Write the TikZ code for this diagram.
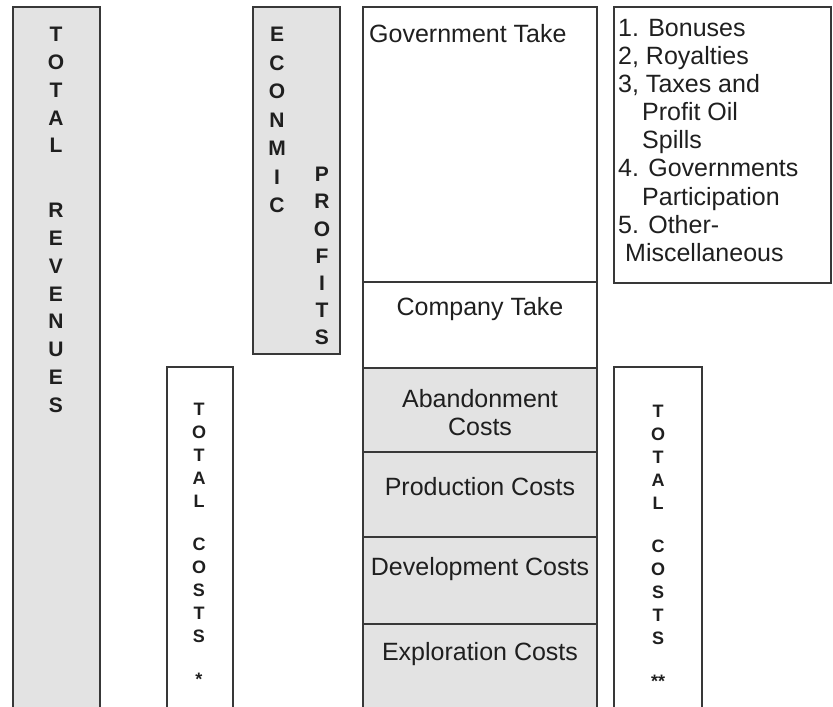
\documentclass[tikz,border=0pt]{standalone}
\usepackage{fontspec}
\setmainfont{Liberation Sans}
\usetikzlibrary{positioning}
\tikzset{box/.style={draw=black!78, line width=1.5pt, inner sep=0pt, outer sep=0pt, anchor=north west}}
\tikzset{greybox/.style={box, fill=black!11}}
\tikzset{txt/.style={inner sep=0pt, text=black!88, font=\fontsize{25}{28.1}\selectfont}}
\tikzset{bigletters/.style={inner sep=0pt, align=center, text=black!88, font=\fontsize{21}{27.8}\selectfont\bfseries}}
\tikzset{smallletters/.style={inner sep=0pt, align=center, text=black!88, font=\fontsize{18}{23}\selectfont\bfseries}}

\begin{document}
\begin{tikzpicture}[x=1pt, y=-1pt]
	\clip (0,0) rectangle (833,707);

	% left hand columns
	\node [greybox, minimum width=87, minimum height=720]	(rev) at (13,7) {};
	\node [greybox, minimum width=87, minimum height=347]	(prof) at (253,7) {};
	\node [box, minimum width=66, minimum height=360]		(cost1) at (167,367) {};

	% middle stack
	\node [box, minimum width=234, minimum height=275]			(gov) at (363,7) {};
	\node [box, minimum width=234, minimum height=86, below=0pt of gov]		(comp) {};
	\node [greybox, minimum width=234, minimum height=84, below=0pt of comp]	(aband) {};
	\node [greybox, minimum width=234, minimum height=85, below=0pt of aband]	(prod) {};
	\node [greybox, minimum width=234, minimum height=87, below=0pt of prod]	(dev) {};
	\node [greybox, minimum width=234, minimum height=100, below=0pt of dev]	(expl) {};

	% right hand boxes
	\node [box, minimum width=217, minimum height=276]	(list) at (614,7) {};
	\node [box, minimum width=88, minimum height=360]	(cost2) at (614,367) {};

	% texts
	\node [txt, anchor=base west] (govtxt) at ([xshift=6pt, yshift=-35pt]gov.north west) {Government Take};
	\node [txt, anchor=base] (comptxt) at ([yshift=-33pt]comp.north) {Company Take};
	\node [txt, align=center] (abandtxt) at ([yshift=-45pt]aband.north) {Abandonment\\Costs};
	\node [txt, anchor=base] (prodtxt) at ([yshift=-43pt]prod.north) {Production Costs};
	\node [txt, anchor=base] (devtxt) at ([yshift=-38pt]dev.north) {Development Costs};
	\node [txt, anchor=base] (expltxt) at ([yshift=-36pt]expl.north) {Exploration Costs};

	\node [txt, align=left, anchor=north west] (items) at ([xshift=4pt, yshift=-12pt]list.north west)
		{1. Bonuses\\2, Royalties\\3, Taxes and\\\hspace*{24pt}Profit Oil\\\hspace*{24pt}Spills\\
		 4. Governments\\\hspace*{24pt}Participation\\5. Other-\\\hspace*{7pt}Miscellaneous};

	% letters set one under the other
	\node [bigletters, anchor=north] (revtxt) at (56,27) {T\\O\\T\\A\\L\\[37pt]R\\E\\V\\E\\N\\U\\E\\S};
	\node [bigletters, font=\fontsize{21}{28.5}\selectfont\bfseries, anchor=north] (econtxt) at (277,27) {E\\C\\O\\N\\M\\I\\C};
	\node [bigletters, font=\fontsize{21}{27.2}\selectfont\bfseries, anchor=north] (proftxt) at (322,167) {P\\R\\O\\F\\I\\T\\S};
	\node [smallletters, anchor=north] (cost1txt) at (199,403) {T\\O\\T\\A\\L\\[20pt]C\\O\\S\\T\\S\\[20pt]*};
	\node [smallletters, anchor=north] (cost2txt) at (658,405) {T\\O\\T\\A\\L\\[20pt]C\\O\\S\\T\\S\\[20pt]**};
\end{tikzpicture}
\end{document}
